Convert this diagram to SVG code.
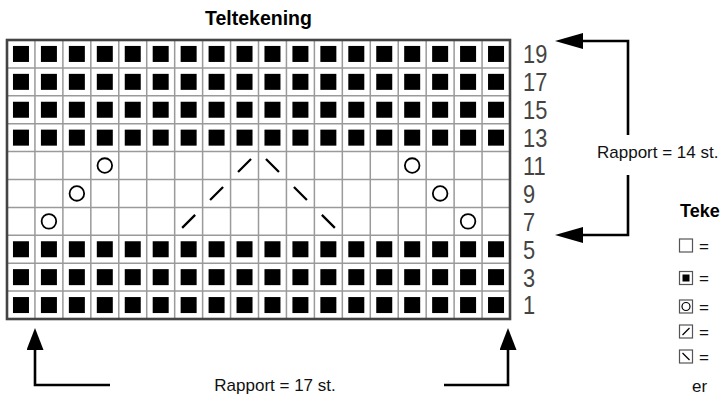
<svg xmlns="http://www.w3.org/2000/svg" xmlns:xlink="http://www.w3.org/1999/xlink" width="721" height="412" viewBox="0 0 721 412">
<style>
.title{font-family:"Liberation Sans",Arial,sans-serif;font-weight:bold;font-size:19.5px;fill:#000}
.num{font-family:"Liberation Sans",Arial,sans-serif;font-size:26px;fill:#444}
.lbl{font-family:"Liberation Sans",Arial,sans-serif;font-size:17px;fill:#111}
.grid{stroke:#9a9a9a;stroke-width:1.5;fill:none}
.border{stroke:#444;stroke-width:2.6;fill:none}
.yo{fill:none;stroke:#000;stroke-width:1.8}
.dec{stroke:#000;stroke-width:2.3}
.conn{fill:none;stroke:#000;stroke-width:2.6;stroke-linejoin:miter}
.lbox{fill:#fff;stroke:#555;stroke-width:1.2}
</style>
<defs>
<marker id="ah" markerUnits="userSpaceOnUse" markerWidth="28" markerHeight="16" viewBox="0 0 28 16" refX="0" refY="8" orient="auto">
<path d="M0,0 L28,8 L0,16 z" fill="#000"/>
</marker>
<marker id="av" markerUnits="userSpaceOnUse" markerWidth="22" markerHeight="17" viewBox="0 0 22 17" refX="0" refY="8.5" orient="auto">
<path d="M0,0 L22,8.5 L0,17 z" fill="#000"/>
</marker>
<rect id="sq" width="16" height="16" fill="#000"/>
<g id="brow">
<use xlink:href="#sq" x="12.97" y="-8"/><use xlink:href="#sq" x="40.92" y="-8"/><use xlink:href="#sq" x="68.86" y="-8"/><use xlink:href="#sq" x="96.80" y="-8"/><use xlink:href="#sq" x="124.75" y="-8"/><use xlink:href="#sq" x="152.69" y="-8"/><use xlink:href="#sq" x="180.64" y="-8"/><use xlink:href="#sq" x="208.58" y="-8"/><use xlink:href="#sq" x="236.53" y="-8"/><use xlink:href="#sq" x="264.47" y="-8"/><use xlink:href="#sq" x="292.42" y="-8"/><use xlink:href="#sq" x="320.36" y="-8"/><use xlink:href="#sq" x="348.31" y="-8"/><use xlink:href="#sq" x="376.25" y="-8"/><use xlink:href="#sq" x="404.19" y="-8"/><use xlink:href="#sq" x="432.14" y="-8"/><use xlink:href="#sq" x="460.08" y="-8"/><use xlink:href="#sq" x="488.03" y="-8"/>
</g>
</defs>
<rect width="721" height="412" fill="#fff"/>
<text class="title" x="258.5" y="25" text-anchor="middle">Teltekening</text>
<g id="chart">
<rect x="7" y="40" width="503" height="279" fill="#fff"/>
<path class="grid" d="M34.94,40V319M62.89,40V319M90.83,40V319M118.78,40V319M146.72,40V319M174.67,40V319M202.61,40V319M230.56,40V319M258.5,40V319M286.44,40V319M314.39,40V319M342.33,40V319M370.28,40V319M398.22,40V319M426.17,40V319M454.11,40V319M482.06,40V319M7,67.9H510M7,95.8H510M7,123.7H510M7,151.6H510M7,179.5H510M7,207.4H510M7,235.3H510M7,263.2H510M7,291.1H510"/>
<use xlink:href="#brow" transform="translate(0,53.95)"/>
<use xlink:href="#brow" transform="translate(0,81.85)"/>
<use xlink:href="#brow" transform="translate(0,109.75)"/>
<use xlink:href="#brow" transform="translate(0,137.65)"/>
<use xlink:href="#brow" transform="translate(0,249.25)"/>
<use xlink:href="#brow" transform="translate(0,277.15)"/>
<use xlink:href="#brow" transform="translate(0,305.05)"/>
<circle class="yo" cx="104.80" cy="165.55" r="7.3"/>
<circle class="yo" cx="76.86" cy="193.45" r="7.3"/>
<circle class="yo" cx="48.92" cy="221.35" r="7.3"/>
<circle class="yo" cx="412.19" cy="165.55" r="7.3"/>
<circle class="yo" cx="440.14" cy="193.45" r="7.3"/>
<circle class="yo" cx="468.08" cy="221.35" r="7.3"/>
<path class="dec" d="M238.03,172.05L251.03,159.05M210.08,199.95L223.08,186.95M182.14,227.85L195.14,214.85"/>
<path class="dec" d="M265.97,159.05L278.97,172.05M293.92,186.95L306.92,199.95M321.86,214.85L334.86,227.85"/>
<rect class="border" x="7" y="40" width="503" height="279"/>
</g>
<g id="rownums">
<text class="num" transform="translate(523,63.3) scale(0.84,1)">19</text>
<text class="num" transform="translate(523,91.2) scale(0.84,1)">17</text>
<text class="num" transform="translate(523,119.1) scale(0.84,1)">15</text>
<text class="num" transform="translate(523,147) scale(0.84,1)">13</text>
<text class="num" transform="translate(523,174.9) scale(0.84,1)">11</text>
<text class="num" transform="translate(523,202.8) scale(0.84,1)">9</text>
<text class="num" transform="translate(523,230.7) scale(0.84,1)">7</text>
<text class="num" transform="translate(523,258.6) scale(0.84,1)">5</text>
<text class="num" transform="translate(523,286.5) scale(0.84,1)">3</text>
<text class="num" transform="translate(523,314.4) scale(0.84,1)">1</text>
</g>
<g id="connectors">
<path class="conn" d="M628,135V41H583" marker-end="url(#ah)"/>
<path class="conn" d="M628,175V235H583" marker-end="url(#ah)"/>
<path class="conn" d="M110,385H35V350" marker-end="url(#av)"/>
<path class="conn" d="M444,385H508V350" marker-end="url(#av)"/>
</g>
<g id="rapport-labels">
<text class="lbl" x="597" y="158">Rapport = 14 st.</text>
<text class="lbl" x="275" y="391" text-anchor="middle">Rapport = 17 st.</text>
</g>
<g id="legend">
<text class="title" x="680" y="217" style="font-size:18px">Teke</text>
<g id="leg-empty"><rect class="lbox" x="679.5" y="239" width="13" height="13"/><text class="lbl" x="699" y="251.5">=</text></g>
<g id="leg-black"><rect class="lbox" x="679.5" y="271.5" width="13" height="13"/><rect x="682.5" y="274.5" width="7" height="7" fill="#000"/><text class="lbl" x="699" y="284">=</text></g>
<g id="leg-yo"><rect class="lbox" x="679.5" y="300" width="13" height="13"/><circle cx="686" cy="306.5" r="4" fill="none" stroke="#000" stroke-width="1.2"/><text class="lbl" x="699" y="312.5">=</text></g>
<g id="leg-k2tog"><rect class="lbox" x="679.5" y="325" width="13" height="13"/><path d="M682.5,335L689.5,328" stroke="#000" stroke-width="1.3"/><text class="lbl" x="699" y="337.5">=</text></g>
<g id="leg-ssk"><rect class="lbox" x="679.5" y="350" width="13" height="13"/><path d="M682.5,353L689.5,360" stroke="#000" stroke-width="1.3"/><text class="lbl" x="699" y="362.5">=</text></g>
<text class="lbl" x="692" y="392">er</text>
</g>
</svg>
